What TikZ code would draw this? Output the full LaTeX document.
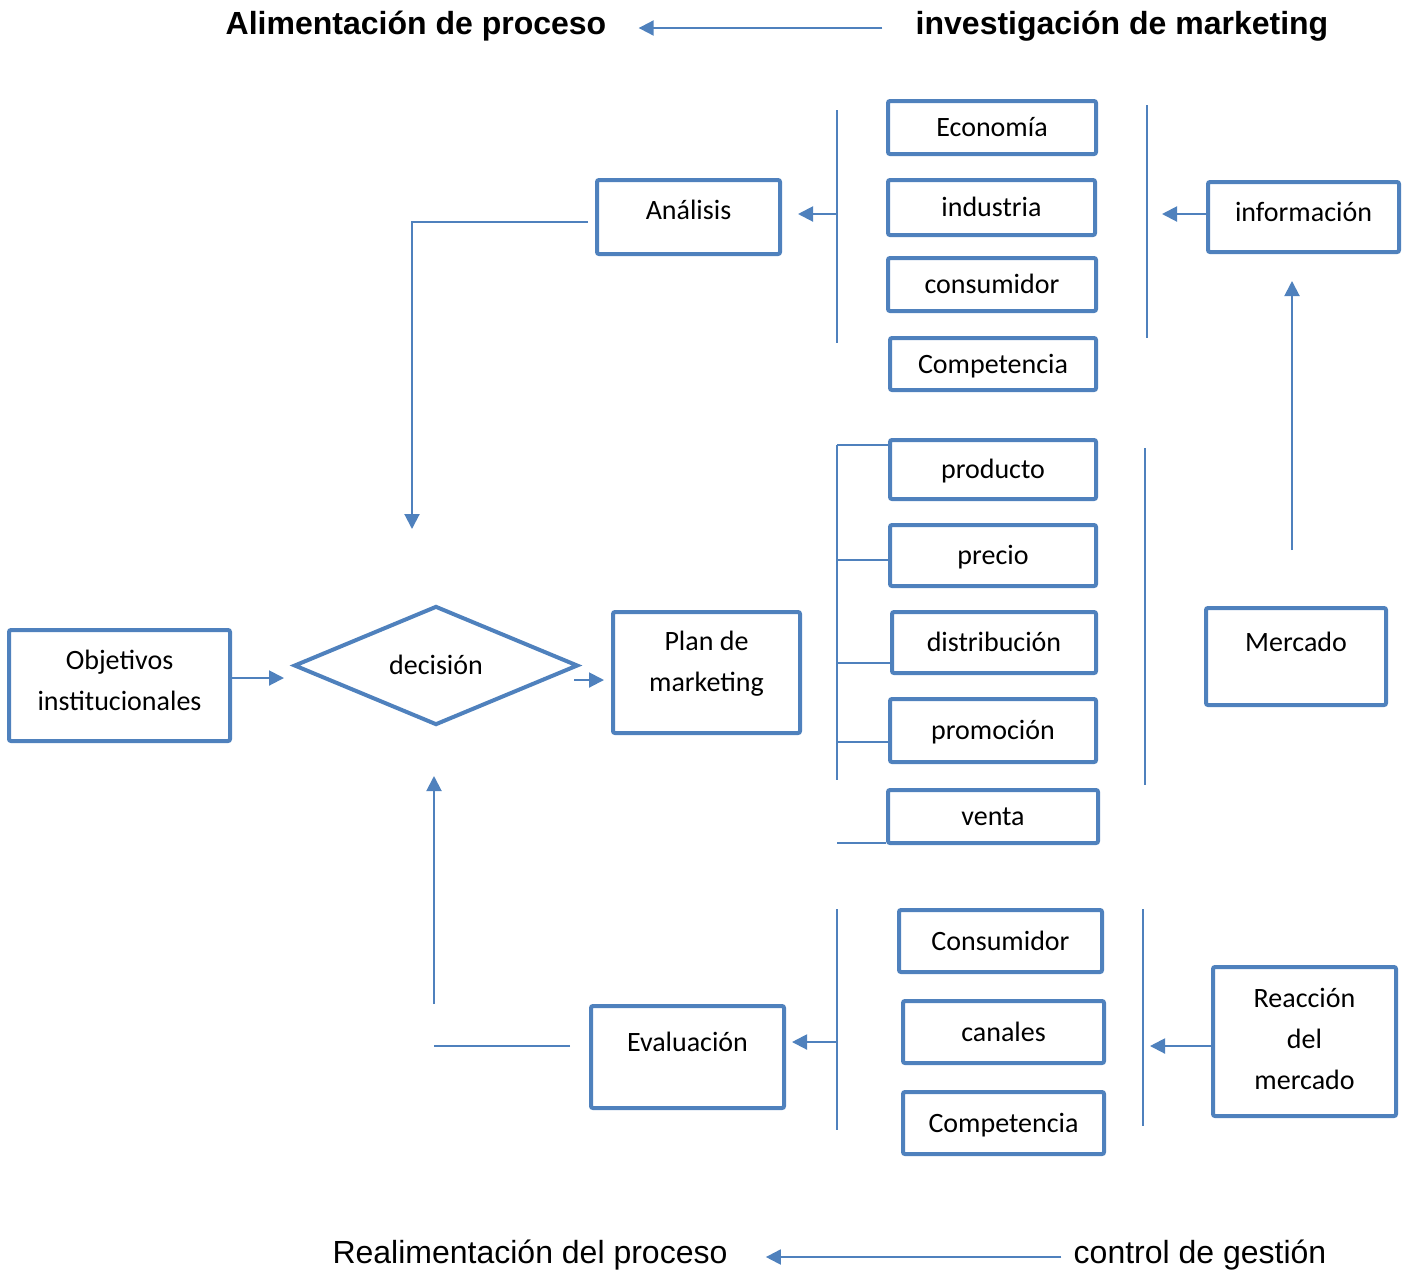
\documentclass[tikz,border=0pt]{standalone}
\usepackage{fontspec}
\setmainfont{Carlito}
\newfontfamily\arialfont{Liberation Sans}
\usetikzlibrary{shapes.geometric,arrows.meta}
\definecolor{boxblue}{RGB}{79,129,189}
\newcommand{\dropstrut}[1]{\rule[-#1]{0pt}{#1}}
\tikzset{
  box/.style={draw=boxblue,line width=2pt,rounded corners=1pt,inner sep=0pt,
    font=\fontsize{14}{20.5}\selectfont},
  single/.style={text height=10pt,text depth=#1},
  single/.default=1pt,
  arr/.style={draw=boxblue,line width=1pt,-{Triangle[length=7.5pt,width=7.5pt]}},
  link/.style={draw=boxblue,line width=1pt},
  brace/.style={draw=boxblue,line width=0.7pt},
  head/.style={inner sep=0pt,anchor=base,font=\arialfont\fontsize{16}{19}\selectfont},
  headbold/.style={head,font=\arialfont\bfseries\fontsize{16}{19}\selectfont}
}
\begin{document}
\begin{tikzpicture}[x=0.5pt,y=-0.5pt]
  \useasboundingbox (0,0) rectangle (1403,1271);

  \node[headbold] (alim) at (416,34) {Alimentación de proceso};
  \node[headbold] (invest) at (1122,34) {investigación de marketing};
  \node[head] (realim) at (530,1263) {Realimentación del proceso};
  \node[head] (control) at (1200,1263) {control de gestión};

  \node[box,single,minimum width=104pt,minimum height=26.5pt] (econ) at (992,127.5) {Economía};
  \node[box,single,minimum width=103.5pt,minimum height=27.5pt] (ind) at (991.5,207.5) {industria};
  \node[box,single,minimum width=104pt,minimum height=26.5pt] (cons) at (992,284.5) {consumidor};
  \node[box,single,minimum width=103pt,minimum height=26pt] (comp) at (993,364) {Competencia};
  \node[box,single=8pt,minimum width=91.5pt,minimum height=37pt] (analisis) at (688.5,217) {Análisis};
  \node[box,single=6pt,minimum width=95.5pt,minimum height=35pt] (info) at (1303.5,217) {información};

  \node[box,single,minimum width=103pt,minimum height=29.5pt] (prod) at (993,469.5) {producto};
  \node[box,single,minimum width=103pt,minimum height=30.5pt] (precio) at (993,555.5) {precio};
  \node[box,single,minimum width=102pt,minimum height=30.5pt] (distr) at (994,642.5) {distribución};
  \node[box,single,minimum width=103pt,minimum height=31.5pt] (promo) at (993,730.5) {promoción};
  \node[box,single,minimum width=105pt,minimum height=26.5pt] (venta) at (993,816.5) {venta};
  \node[box,single=15.5pt,minimum width=90pt,minimum height=48.5pt] (mercado) at (1296,656.5) {Mercado};
  \node[box,align=center,minimum width=93.5pt,minimum height=60.5pt] (plan) at (706.5,672.5) {Plan de\\marketing\dropstrut{11.5pt}};
  \node[box,align=center,minimum width=110.5pt,minimum height=55.5pt] (objetivos) at (119.5,685.5) {Objetivos\\institucionales\dropstrut{5pt}};
  \node[box,single,diamond,rounded corners=0pt,minimum width=142pt,minimum height=59.5pt] (decision) at (436,665.5) {decisión};

  \node[box,single,minimum width=101.5pt,minimum height=31pt] (consB) at (1000.5,941) {Consumidor};
  \node[box,single,minimum width=100.5pt,minimum height=31pt] (canales) at (1003.5,1032) {canales};
  \node[box,single,minimum width=100.5pt,minimum height=31pt] (compB) at (1003.5,1123) {Competencia};
  \node[box,single=16pt,minimum width=96.5pt,minimum height=51pt] (evaluacion) at (687.5,1057) {Evaluación};
  \node[box,align=center,minimum width=91.5pt,minimum height=74.5pt] (reaccion) at (1304.5,1041.5) {Reacción\\del\\mercado\dropstrut{3pt}};

  \coordinate (t1a) at (837,110);
  \coordinate (t1b) at (837,343);
  \coordinate (t2a) at (1147,105);
  \coordinate (t2b) at (1147,338);
  \coordinate (m1a) at (837,445);
  \coordinate (m1b) at (837,780);
  \coordinate (m2a) at (1145,448);
  \coordinate (m2b) at (1145,785);
  \coordinate (b1a) at (837,909);
  \coordinate (b1b) at (837,1130);
  \coordinate (b2a) at (1143,909);
  \coordinate (b2b) at (1143,1126);
  \coordinate (fb) at (434,1046);

  \draw[brace] (t1a) -- (t1b) (t2a) -- (t2b) (m1a) -- (m1b) (m2a) -- (m2b) (b1a) -- (b1b) (b2a) -- (b2b);
  \foreach \n/\y in {prod/445,precio/560,distr/663,promo/742,venta/843}
    \draw[brace] (m1a |- 0,\y) -- (\n.west |- 0,\y);

  \draw[arr] ([xshift=-16.5pt]invest.west |- 0,28) -- ([xshift=16pt]alim.east |- 0,28);
  \draw[arr] ([xshift=-6pt]control.west |- 0,1257) -- ([xshift=19pt]realim.east |- 0,1257);

  \draw[arr] (t1a |- 0,214) -- ([xshift=8pt]analisis.east |- 0,214);
  \draw[arr] (info.west |- 0,214) -- ([xshift=7.5pt]t2a |- 0,214);
  \draw[arr] ([xshift=-3.5pt]analisis.west |- 0,222) -| ([xshift=-12pt,yshift=37.5pt]decision.north);
  \draw[arr] (objetivos.east |- 0,678) -- ([xshift=-4pt]decision.west |- 0,678);
  \draw[arr] ([xshift=-3pt]decision.east |- 0,680) -- ([xshift=-3.5pt]plan.west |- 0,680);
  \draw[arr] ([xshift=-2pt,yshift=28pt]mercado.north) -- ([xshift=-2pt,yshift=-13.5pt]mercado.north |- info.south);

  \draw[arr] (b1a |- 0,1042) -- ([xshift=3pt]evaluacion.east |- 0,1042);
  \draw[arr] (reaccion.west |- 0,1046) -- ([xshift=3.5pt]b2a |- 0,1046);
  \draw[link] ([xshift=-9.5pt]evaluacion.west |- fb) -- (fb);
  \draw[arr] (fb |- 0,1004) -- ([xshift=-1pt,yshift=-24.5pt]decision.south);

\end{tikzpicture}
\end{document}
